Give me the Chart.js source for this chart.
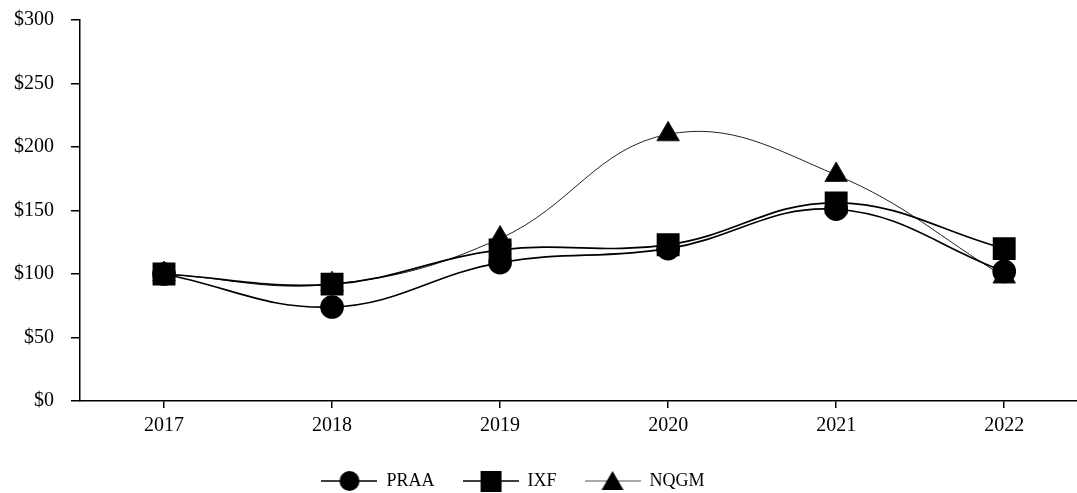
<!DOCTYPE html>
<html>
<head>
<meta charset="utf-8">
<script src="https://cdn.jsdelivr.net/npm/chart.js@4/dist/chart.umd.min.js"></script>
<style>
  html, body { margin: 0; padding: 0; background: #fff; overflow: hidden; }
  /* a little wider than the window: the original is cut off on the right */
  #wrap { width: 1094px; height: 493px; }
</style>
</head>
<body>
<div id="wrap"><canvas id="perfChart"></canvas></div>
<script>
const years = [2017, 2018, 2019, 2020, 2021, 2022];
const praa = [100, 74, 109, 120, 151, 102];
const ixf = [100, 92, 119, 123, 156, 120];
const nqgm = [100, 92, 128, 210, 178, 98];
const yTicks = [0, 50, 100, 150, 200, 250, 300];

const serif = '"Liberation Serif", "Times New Roman", serif';

// half a year band before the first point; the right end is cropped in the source
const xMin = 2016.5;
const xMax = 2022.435;

function pts(values) {
    return years.map((y, i) => ({ x: y, y: values[i] }));
}

// legend swatch: short line with the marker on it
function legendIcon(shape, lineWidth, lineColor) {
    const c = document.createElement('canvas');
    c.width = 56;
    c.height = 26;
    const g = c.getContext('2d');
    g.strokeStyle = lineColor;
    g.lineWidth = lineWidth;
    g.beginPath();
    g.moveTo(0, 13);
    g.lineTo(56, 13);
    g.stroke();
    g.fillStyle = '#000';
    g.beginPath();
    if (shape === 'circle') {
        g.arc(28, 13, 10, 0, Math.PI * 2);
    } else if (shape === 'rect') {
        g.rect(18, 3, 21, 21);
    } else {
        g.moveTo(28, 3);
        g.lineTo(39, 22);
        g.lineTo(17, 22);
        g.closePath();
    }
    g.fill();
    return c;
}

const icons = [
    legendIcon('circle', 1.5, '#000'),
    legendIcon('rect', 1.5, '#000'),
    legendIcon('triangle', 1, '#555')
];

// the legend in the original sits a bit left of centre
const legendShift = {
    id: 'legendShift',
    afterLayout: function(chart) {
        chart.legend.left -= 34;
        chart.legend.right -= 34;
    }
};

document.addEventListener('DOMContentLoaded', function() {
    const ctx = document.getElementById('perfChart').getContext('2d');
    new Chart(ctx, {
        type: 'line',
        data: {
            datasets: [{
                label: 'PRAA',
                data: pts(praa),
                borderColor: '#000',
                backgroundColor: '#000',
                borderWidth: 1.7,
                pointStyle: 'circle',
                pointRadius: 11,
                tension: 0.4
            }, {
                label: 'IXF',
                data: pts(ixf),
                borderColor: '#000',
                backgroundColor: '#000',
                borderWidth: 1.7,
                pointStyle: 'rect',
                pointRadius: 15,
                tension: 0.4
            }, {
                label: 'NQGM',
                data: pts(nqgm),
                borderColor: '#222',
                backgroundColor: '#000',
                borderWidth: 1,
                pointStyle: 'triangle',
                pointRadius: 13,
                tension: 0.4
            }]
        },
        plugins: [legendShift],
        options: {
            responsive: true,
            maintainAspectRatio: false,
            animation: false,
            layout: {
                padding: { top: 20, right: 0, left: 0, bottom: -7 }
            },
            scales: {
                x: {
                    type: 'linear',
                    min: xMin,
                    max: xMax,
                    afterBuildTicks: function(scale) {
                        scale.ticks = years.map(v => ({ value: v }));
                    },
                    afterFit: function(scale) {
                        scale.paddingLeft = 0;
                        scale.paddingRight = 0;
                    },
                    grid: {
                        drawOnChartArea: false,
                        drawTicks: true,
                        tickLength: 7,
                        color: '#000',
                        lineWidth: 1.5
                    },
                    border: { color: '#000', width: 1.5 },
                    ticks: {
                        color: '#000',
                        padding: 6,
                        maxRotation: 0,
                        font: { family: serif, size: 20 },
                        callback: function(v) { return String(v); }
                    }
                },
                y: {
                    min: 0,
                    max: 300,
                    afterFit: function(scale) {
                        scale.width = 80;
                        scale.paddingTop = 0;
                        scale.paddingBottom = 0;
                    },
                    afterBuildTicks: function(scale) {
                        scale.ticks = yTicks.map(v => ({ value: v }));
                    },
                    grid: {
                        drawOnChartArea: false,
                        drawTicks: true,
                        tickLength: 9,
                        color: '#000',
                        lineWidth: 1.5
                    },
                    border: { color: '#000', width: 1.5 },
                    ticks: {
                        color: '#000',
                        padding: 17,
                        font: { family: serif, size: 20 },
                        callback: function(v) { return '$' + v; }
                    }
                }
            },
            plugins: {
                tooltip: { enabled: false },
                legend: {
                    position: 'bottom',
                    labels: {
                        color: '#000',
                        usePointStyle: true,
                        pointStyleWidth: 56,
                        padding: 28,
                        font: { family: serif, size: 18 },
                        generateLabels: function(chart) {
                            return chart.data.datasets.map((ds, i) => ({
                                text: ds.label,
                                pointStyle: icons[i],
                                fillStyle: '#000',
                                strokeStyle: '#000',
                                lineWidth: 0,
                                fontColor: '#000',
                                hidden: false,
                                datasetIndex: i
                            }));
                        }
                    }
                }
            }
        }
    });
});
</script>
</body>
</html>
